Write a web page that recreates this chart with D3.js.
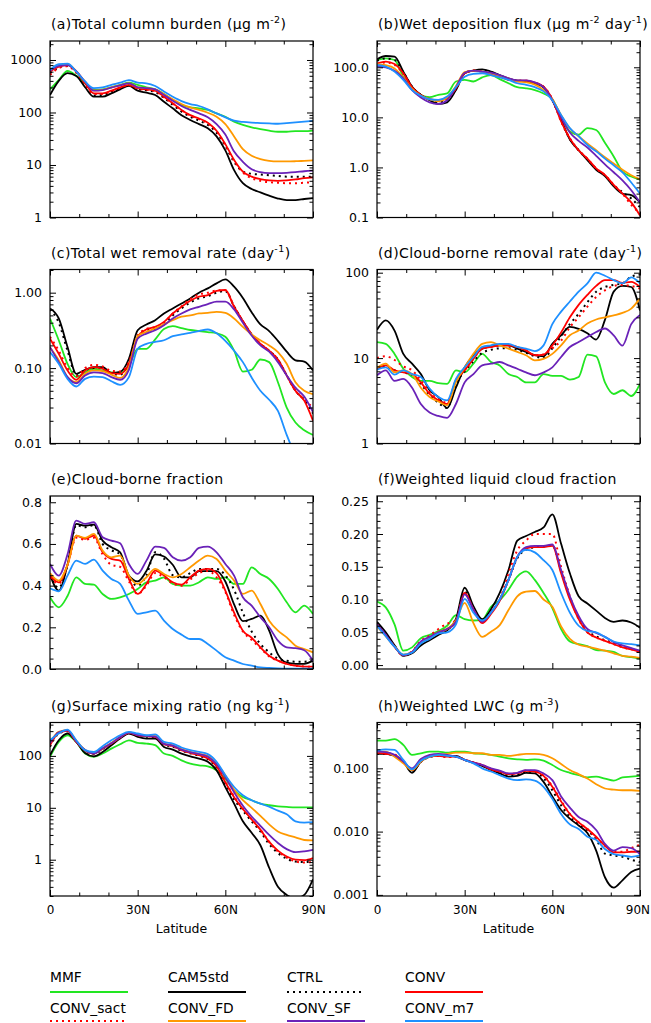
<!DOCTYPE html>
<html><head><meta charset="utf-8">
<script src="https://cdn.jsdelivr.net/npm/d3@7"></script>
<style>
body{margin:0;background:#fff;}
svg{display:block;font-family:"DejaVu Sans",sans-serif;}
</style></head><body>
<svg id="chart" width="651" height="1023"></svg>
<script>
// Zonal means, 0-90N
const lat = [0,3,6,9,12,15,18,21,24,27,30,33,36,39,42,45,48,51,54,57,60,63,66,69,72,75,78,81,84,87,90];

const seriesNames  = ["MMF","CAM5std","CTRL","CONV","CONV_sact","CONV_FD","CONV_SF","CONV_m7"];
const seriesColors = ["#22e622","#000000","#000000","#ff0000","#ff0000","#ff9900","#6a22b8","#1e90ff"];
const seriesDotted = [false,false,true,false,true,false,false,false];

// (a) total column burden, ug m-2
const burden = {
  MMF:      [276,415,617,500,360,268,276,302,335,370,335,302,276,225,173,139,125,120,112,96,83,67,58,52,48,45,43,43,44,44,45],
  CAM5std:  [215,400,560,496,302,200,200,232,276,320,260,238,215,160,120,89,72,60,50,35,19,8,4.5,3.5,3.0,2.6,2.3,2.15,2.15,2.25,2.35],
  CTRL:     [560,720,780,580,340,210,215,250,290,330,280,265,245,190,140,104,83,70,58,41,23,11.5,7.5,6.8,6.6,6.4,6.2,6.0,6.0,6.0,6.0],
  CONV:     [600,746,800,600,360,232,232,260,302,335,290,276,260,200,150,112,89,77,64,45,25,12.5,7.5,6.0,5.4,5.1,5.0,5.1,5.3,5.6,5.8],
  CONV_sact:[520,700,760,570,350,225,225,255,295,330,285,270,255,195,148,110,87,75,62,44,24,12,7.2,5.6,5.0,4.7,4.6,4.5,4.5,4.6,4.7],
  CONV_FD:  [645,780,830,610,385,262,270,300,330,360,302,290,276,222,178,145,125,112,99,83,60,35,20,15,13,12,11.7,11.7,11.8,12,12.2],
  CONV_SF:  [626,770,800,610,386,260,268,297,330,360,302,290,276,215,168,133,112,96,81,60,38,18,11.5,8.3,7.3,7.0,7.0,7.1,7.3,7.6,7.8],
  CONV_m7:  [645,830,850,600,390,290,300,335,370,415,370,360,320,250,200,165,145,133,115,96,81,70,66,64,63,62,61,63,65,67,69]
};

// (b) wet deposition flux, ug m-2 day-1
const wetdep = {
  MMF:      [140,151,140,65,40,28,25.3,28,30,52,56,52,63,70,58,48,40,38,35,30,23,10.4,5.2,4.5,6.1,5.6,3.1,1.66,0.83,0.66,0.57],
  CAM5std:  [144,168,163,82,41,28,22,18.6,20,35,76,86,91,82,70,60,54,53,48,40,22,9,3.6,2.2,1.4,0.9,0.67,0.42,0.3,0.28,0.2],
  CTRL:     [135,150,140,80,41,28,22.5,20,22,36,76,86,88,80,68,58,54,53,49,40,22.5,8.6,3.7,2.2,1.45,0.93,0.69,0.44,0.32,0.24,0.16],
  CONV:     [120,130,116,76,40,28,23,22,24,38,76,86,82,74,65,56,54,54,49.5,41,23,8.3,3.8,2.2,1.5,0.96,0.71,0.45,0.3,0.2,0.11],
  CONV_sact:[115,125,112,74,39,28,23,22,24,38,76,86,82,74,65,56,54,54,49,41,23,8.3,3.8,2.2,1.5,0.95,0.7,0.45,0.3,0.18,0.12],
  CONV_FD:  [115,110,95,62,37,27,23,21,25,42,80,86,82,76,68,60,52,50,45,35,23,11,6,4.2,3,2.2,1.6,1.2,0.9,0.7,0.58],
  CONV_SF:  [105,100,85,60,35,25,20,18.5,22,40,78,86,82,78,70,60,55,55,50,40,22,10,5,3.4,2.5,1.7,1.15,0.8,0.55,0.35,0.2],
  CONV_m7:  [111,103,82,56,35,27,23,22.3,26,40,65,74,76,70,63,56,48,44.5,40,33,22,11.2,6.1,4.2,2.8,2.1,1.5,1.1,0.8,0.5,0.3]
};

// (c) total wet removal rate, day-1
const wetrate = {
  MMF:      [0.455,0.234,0.114,0.076,0.088,0.098,0.093,0.088,0.086,0.108,0.18,0.18,0.24,0.33,0.36,0.34,0.32,0.31,0.30,0.29,0.26,0.17,0.09,0.095,0.13,0.12,0.065,0.03,0.019,0.015,0.013],
  CAM5std:  [0.618,0.455,0.19,0.084,0.095,0.103,0.103,0.086,0.089,0.133,0.318,0.378,0.432,0.53,0.618,0.72,0.84,1.0,1.14,1.33,1.5,1.2,0.85,0.55,0.38,0.31,0.23,0.165,0.127,0.122,0.093],
  CTRL:     [0.6,0.4,0.17,0.08,0.094,0.1,0.1,0.085,0.082,0.12,0.26,0.32,0.33,0.38,0.5,0.62,0.74,0.84,0.9,1.0,1.05,0.66,0.42,0.28,0.21,0.17,0.13,0.08,0.05,0.038,0.025],
  CONV:     [0.246,0.155,0.093,0.07,0.093,0.103,0.098,0.086,0.084,0.114,0.259,0.325,0.352,0.41,0.53,0.65,0.78,0.885,0.93,1.06,1.085,0.65,0.42,0.28,0.21,0.17,0.13,0.08,0.05,0.037,0.02],
  CONV_sact:[0.26,0.17,0.1,0.078,0.1,0.11,0.105,0.092,0.09,0.12,0.27,0.33,0.35,0.4,0.53,0.66,0.82,0.95,1.0,1.07,1.08,0.66,0.42,0.28,0.21,0.17,0.13,0.08,0.05,0.038,0.03],
  CONV_FD:  [0.187,0.127,0.076,0.065,0.084,0.093,0.091,0.082,0.074,0.103,0.265,0.302,0.335,0.38,0.432,0.48,0.5,0.53,0.54,0.558,0.54,0.455,0.352,0.28,0.234,0.2,0.163,0.114,0.065,0.05,0.045],
  CONV_SF:  [0.19,0.12,0.076,0.063,0.08,0.088,0.086,0.076,0.07,0.095,0.246,0.287,0.318,0.37,0.455,0.53,0.6,0.65,0.706,0.76,0.76,0.6,0.4,0.27,0.2,0.165,0.12,0.08,0.055,0.042,0.026],
  CONV_m7:  [0.163,0.114,0.072,0.057,0.072,0.077,0.076,0.067,0.06,0.076,0.18,0.21,0.222,0.234,0.265,0.28,0.293,0.31,0.325,0.29,0.23,0.17,0.12,0.075,0.05,0.038,0.027,0.013,0.007,0.005,0.004]
};

// (d) cloud-borne removal rate, day-1
const cbrate = {
  MMF:      [15.4,14.7,11.2,7.5,6,5.4,5.4,5.1,5,7.2,6.8,8.6,11.2,9,8.2,6.5,6,5.2,5.2,6.5,6.2,6.2,5.6,6,11,10.5,5.2,3.8,4.2,3.6,5],
  CAM5std:  [21.5,27.7,21,11.2,8.6,6.5,4.2,3.5,2.6,4.5,7.8,10.7,12.9,13.7,14.1,14.1,12.9,11.8,10.8,10.5,14.7,18.5,23.2,22,19.5,16.5,28,60,70,68,36],
  CTRL:     [7.5,8,7.2,6.8,6.4,5,3.7,3,2.6,5,7,9.2,11.5,12.5,13,13,12.5,11.5,10.5,10,13,18,25,33,45,60,68,72,75,90,95],
  CONV:     [7.5,8.2,7.2,6.8,6.5,5.2,3.8,3.2,2.9,5.5,7.2,9.8,12.9,13.5,14.1,14.1,13.5,12.3,10.8,11,14.1,20,30,42,55,70,82,82,76,78,68],
  CONV_sact:[10,10.5,9.5,8,7.2,5.5,4,3.3,3,5.5,7.2,9.8,12.9,13.5,14,14,13.5,12.3,10.8,11,13,16,23,30,40,52,62,70,72,70,65],
  CONV_FD:  [7.7,8.6,6.8,7.2,6.5,4.5,3.5,3.1,2.8,5.2,7.8,11.2,14.7,15.4,14.1,12.9,11.8,10.8,9.4,9.8,11.2,14.1,18.5,21,25.4,28.3,30,31.7,33.8,38,50],
  CONV_SF:  [6.3,7.2,5.4,5.7,4.5,2.9,2.3,2.1,2,2.9,5.2,6.5,8.2,8.6,9,8.2,7.5,6.8,6.3,6.8,7.8,10.3,13.5,15.4,17.7,20.2,22.2,18.5,14,25,32],
  CONV_m7:  [7.3,7.8,6.4,7.2,6.5,6,4.4,3.5,3.2,5.7,7.8,10.3,13.5,14.1,14.7,14.7,13.5,12.9,12.1,14.1,25,35,46,60,75,100,92,82,75,88,75]
};

// (e) cloud-borne fraction
const cbfrac = {
  MMF:      [0.344,0.296,0.35,0.44,0.408,0.405,0.36,0.336,0.344,0.36,0.384,0.416,0.424,0.44,0.408,0.4,0.4,0.416,0.44,0.432,0.44,0.408,0.408,0.488,0.456,0.432,0.384,0.32,0.272,0.304,0.264],
  CAM5std:  [0.453,0.376,0.5,0.696,0.688,0.693,0.616,0.584,0.56,0.448,0.42,0.47,0.55,0.54,0.5,0.44,0.44,0.47,0.47,0.47,0.42,0.31,0.23,0.24,0.256,0.184,0.07,0.03,0.025,0.025,0.04],
  CTRL:     [0.45,0.39,0.5,0.69,0.68,0.69,0.6,0.57,0.55,0.44,0.4,0.45,0.56,0.53,0.45,0.44,0.46,0.48,0.48,0.48,0.45,0.38,0.27,0.18,0.12,0.08,0.05,0.04,0.035,0.035,0.04],
  CONV:     [0.448,0.416,0.5,0.64,0.624,0.64,0.56,0.528,0.52,0.432,0.36,0.408,0.472,0.448,0.416,0.405,0.44,0.472,0.48,0.46,0.376,0.27,0.184,0.15,0.104,0.064,0.04,0.024,0.016,0.011,0.011],
  CONV_sact:[0.44,0.41,0.5,0.63,0.62,0.63,0.55,0.5,0.49,0.42,0.36,0.4,0.46,0.44,0.41,0.4,0.43,0.46,0.47,0.44,0.37,0.26,0.18,0.14,0.1,0.06,0.04,0.025,0.016,0.012,0.011],
  CONV_FD:  [0.46,0.424,0.5,0.64,0.629,0.648,0.568,0.536,0.544,0.448,0.408,0.44,0.48,0.456,0.44,0.456,0.488,0.52,0.544,0.528,0.472,0.424,0.36,0.376,0.312,0.232,0.184,0.152,0.112,0.096,0.08],
  CONV_SF:  [0.504,0.448,0.55,0.712,0.696,0.704,0.632,0.616,0.603,0.504,0.456,0.52,0.587,0.581,0.536,0.52,0.536,0.581,0.587,0.56,0.504,0.448,0.344,0.304,0.248,0.2,0.136,0.104,0.1,0.09,0.04],
  CONV_m7:  [0.387,0.373,0.448,0.52,0.504,0.525,0.472,0.432,0.408,0.328,0.264,0.272,0.28,0.232,0.192,0.165,0.144,0.144,0.12,0.088,0.056,0.04,0.024,0.016,0.008,0.005,0.003,0.002,0.002,0.002,0.002]
};

// (f) weighted liquid cloud fraction
const lcf = {
  MMF:      [0.097,0.088,0.062,0.022,0.027,0.041,0.046,0.052,0.06,0.076,0.07,0.068,0.069,0.089,0.099,0.115,0.135,0.143,0.13,0.11,0.087,0.055,0.036,0.032,0.029,0.023,0.022,0.02,0.014,0.012,0.01],
  CAM5std:  [0.066,0.05,0.03,0.014,0.018,0.03,0.038,0.046,0.053,0.07,0.118,0.09,0.07,0.085,0.11,0.145,0.19,0.197,0.203,0.21,0.23,0.185,0.14,0.105,0.094,0.083,0.072,0.066,0.068,0.065,0.057],
  CTRL:     [0.064,0.046,0.029,0.015,0.02,0.035,0.042,0.05,0.055,0.066,0.112,0.086,0.066,0.08,0.1,0.13,0.163,0.176,0.18,0.181,0.183,0.143,0.103,0.072,0.052,0.044,0.038,0.033,0.028,0.025,0.021],
  CONV:     [0.062,0.045,0.028,0.015,0.02,0.035,0.042,0.05,0.055,0.065,0.11,0.085,0.064,0.078,0.098,0.13,0.165,0.178,0.18,0.18,0.182,0.14,0.1,0.07,0.05,0.042,0.037,0.032,0.027,0.024,0.02],
  CONV_sact:[0.062,0.045,0.028,0.015,0.021,0.037,0.045,0.055,0.063,0.068,0.11,0.085,0.066,0.08,0.1,0.14,0.175,0.19,0.2,0.2,0.2,0.15,0.105,0.07,0.05,0.042,0.037,0.032,0.027,0.024,0.02],
  CONV_FD:  [0.059,0.044,0.028,0.016,0.02,0.035,0.042,0.05,0.055,0.068,0.095,0.064,0.043,0.051,0.061,0.084,0.105,0.112,0.113,0.1,0.089,0.059,0.04,0.031,0.028,0.025,0.022,0.018,0.014,0.013,0.011],
  CONV_SF:  [0.062,0.046,0.028,0.015,0.02,0.036,0.043,0.05,0.055,0.066,0.108,0.085,0.066,0.08,0.1,0.13,0.165,0.18,0.182,0.182,0.184,0.145,0.105,0.075,0.055,0.049,0.043,0.035,0.03,0.026,0.022],
  CONV_m7:  [0.06,0.044,0.028,0.016,0.019,0.033,0.04,0.048,0.05,0.062,0.101,0.08,0.068,0.08,0.1,0.13,0.165,0.176,0.172,0.16,0.145,0.11,0.08,0.06,0.052,0.05,0.043,0.036,0.033,0.032,0.03]
};

// (g) surface mixing ratio, ng kg-1
const sfc = {
  MMF:      [96,186,250,186,111,96,111,138,168,200,178,173,161,111,100,82,71,66,63,53,36.6,21.7,16.2,14,12,11.2,10.7,10.4,10.2,10.2,10.2],
  CAM5std:  [103,200,270,186,114,98,119,161,216,270,233,216,216,149,132,111,98,89,77,53,25,12,5.5,3.3,1.9,0.7,0.3,0.21,0.18,0.21,0.42],
  CTRL:     [150,270,300,186,125,108,135,170,222,275,245,235,228,165,150,126,112,100,86,60,29,14.5,8.8,5.5,3.5,2.0,1.35,1.05,0.92,0.9,0.95],
  CONV:     [160,278,303,186,129,111,138,173,226,278,250,240,233,168,154,129,114,103,89,63,31,16,9.5,6,3.8,2.2,1.5,1.15,1.0,0.98,1.08],
  CONV_sact:[170,285,305,190,130,112,140,175,228,280,252,242,235,170,155,130,115,104,90,64,32,16.5,9.6,6,3.8,2.2,1.45,1.1,0.93,0.88,0.92],
  CONV_FD:  [180,290,315,195,130,112,140,178,232,285,255,245,240,172,160,135,120,110,99,71,42.4,22,14,10,7,4.8,3.5,3.0,2.7,2.4,2.35],
  CONV_SF:  [175,285,310,190,130,111,140,175,230,280,252,242,236,170,158,132,118,108,96,69,39,20,11,6.8,4.5,3.0,2.1,1.6,1.4,1.45,1.55],
  CONV_m7:  [200,270,320,200,129,119,154,200,250,290,270,250,260,186,173,145,129,119,108,77,42.4,25.2,17.4,14,12,10.5,8.8,7.5,5.5,5.2,5.3]
};

// (h) weighted LWC, g m-3
const lwc = {
  MMF:      [0.275,0.275,0.29,0.235,0.163,0.173,0.184,0.184,0.177,0.184,0.184,0.173,0.169,0.163,0.153,0.144,0.139,0.136,0.139,0.132,0.113,0.094,0.085,0.078,0.072,0.074,0.069,0.064,0.072,0.074,0.076],
  CAM5std:  [0.169,0.169,0.157,0.128,0.085,0.128,0.153,0.163,0.157,0.157,0.136,0.123,0.109,0.094,0.083,0.074,0.076,0.085,0.083,0.061,0.036,0.022,0.016,0.0125,0.0095,0.005,0.0019,0.0013,0.0017,0.0023,0.0026],
  CTRL:     [0.17,0.168,0.16,0.127,0.09,0.127,0.152,0.158,0.154,0.154,0.135,0.122,0.11,0.095,0.086,0.078,0.08,0.088,0.087,0.07,0.045,0.026,0.017,0.013,0.0105,0.0075,0.0045,0.0042,0.004,0.0036,0.0033],
  CONV:     [0.177,0.17,0.163,0.128,0.094,0.128,0.153,0.157,0.153,0.153,0.136,0.123,0.113,0.096,0.089,0.081,0.083,0.091,0.089,0.076,0.051,0.03,0.019,0.014,0.011,0.0083,0.006,0.0047,0.0047,0.0048,0.0048],
  CONV_sact:[0.178,0.172,0.165,0.13,0.094,0.13,0.154,0.157,0.15,0.152,0.137,0.124,0.114,0.098,0.09,0.082,0.084,0.092,0.09,0.077,0.052,0.031,0.019,0.014,0.011,0.008,0.006,0.0048,0.0048,0.0055,0.0062],
  CONV_FD:  [0.184,0.184,0.153,0.12,0.094,0.128,0.153,0.163,0.169,0.177,0.177,0.173,0.173,0.163,0.163,0.157,0.163,0.169,0.169,0.163,0.144,0.117,0.094,0.081,0.069,0.056,0.048,0.046,0.045,0.045,0.044],
  CONV_SF:  [0.184,0.18,0.163,0.128,0.1,0.14,0.163,0.169,0.163,0.153,0.136,0.123,0.113,0.1,0.092,0.083,0.085,0.094,0.094,0.083,0.065,0.036,0.024,0.017,0.0143,0.0106,0.0064,0.005,0.0057,0.0055,0.0044],
  CONV_m7:  [0.19,0.2,0.195,0.136,0.096,0.132,0.153,0.163,0.157,0.153,0.136,0.12,0.1,0.089,0.078,0.069,0.065,0.067,0.064,0.051,0.033,0.019,0.013,0.011,0.0083,0.0074,0.0053,0.0044,0.0042,0.004,0.0042]
};

const xTickValues = [0,30,60,90];
const xTickLabels = ["0","30N","60N","90N"];
const xMinorValues = [10,20,40,50,70,80];

// Panel titles: [text, superscript?] runs
const panels = [
  {key:"a", data:burden, log:true, domain:[1,2300],
   title:[["(a)Total column burden (μg m",0],["-2",1],[")",0]],
   ticks:[1,10,100,1000], labels:["1","10","100","1000"]},
  {key:"b", data:wetdep, log:true, domain:[0.1,335],
   title:[["(b)Wet deposition flux (μg m",0],["-2",1],[" day",0],["-1",1],[")",0]],
   ticks:[0.1,1,10,100], labels:["0.1","1.0","10.0","100.0"]},
  {key:"c", data:wetrate, log:true, domain:[0.01,2.03],
   title:[["(c)Total wet removal rate (day",0],["-1",1],[")",0]],
   ticks:[0.01,0.1,1], labels:["0.01","0.10","1.00"]},
  {key:"d", data:cbrate, log:true, domain:[1,109],
   title:[["(d)Cloud-borne removal rate (day",0],["-1",1],[")",0]],
   ticks:[1,10,100], labels:["1","10","100"]},
  {key:"e", data:cbfrac, log:false, domain:[0,0.83],
   title:[["(e)Cloud-borne fraction",0]],
   ticks:[0,0.2,0.4,0.6,0.8], labels:["0.0","0.2","0.4","0.6","0.8"], minorStep:0.05},
  {key:"f", data:lcf, log:false, domain:[-0.006,0.258],
   title:[["(f)Weighted liquid cloud fraction",0]],
   ticks:[0,0.05,0.1,0.15,0.2,0.25], labels:["0.00","0.05","0.10","0.15","0.20","0.25"], minorStep:0.01},
  {key:"g", data:sfc, log:true, domain:[0.2,440],
   title:[["(g)Surface mixing ratio (ng kg",0],["-1",1],[")",0]],
   ticks:[1,10,100], labels:["1","10","100"]},
  {key:"h", data:lwc, log:true, domain:[0.00096,0.53],
   title:[["(h)Weighted LWC (g m",0],["-3",1],[")",0]],
   ticks:[0.001,0.01,0.1], labels:["0.001","0.010","0.100"]}
];

const W = 651;
const cols = [[50,313],[377,640]];
const rows = [[41,217.5],[269.5,443.5],[496,669],[722.5,896]];
const majorLen = 6, minorLen = 3.5;

const svg = d3.select("#chart");
const defs = svg.append("defs");

function minorTicks(p) {
  const [lo, hi] = p.domain;
  const out = [];
  if (p.log) {
    for (let e = Math.floor(Math.log10(lo)); e <= Math.ceil(Math.log10(hi)); e++) {
      for (let k = 2; k <= 9; k++) {
        const v = k * Math.pow(10, e);
        if (v >= lo && v <= hi) out.push(v);
      }
    }
  } else {
    const n = Math.round((hi - lo) / p.minorStep) + 2;
    for (let i = -1; i < n; i++) {
      const v = Math.round((Math.ceil(lo / p.minorStep) + i) * p.minorStep * 1e6) / 1e6;
      if (v >= lo && v <= hi && !p.ticks.some(t => Math.abs(t - v) < 1e-9)) out.push(v);
    }
  }
  return out;
}

function styleAxis(sel) {
  sel.select(".domain").remove();
  sel.selectAll(".tick line").attr("stroke", "#000").attr("stroke-width", 1);
  sel.selectAll(".tick text").attr("fill", "#000").attr("font-size", 12.5)
     .attr("font-family", '"DejaVu Sans",sans-serif');
}

panels.forEach((p, idx) => {
  const [x0, x1] = cols[idx % 2];
  const [y0, y1] = rows[Math.floor(idx / 2)];
  const lastRow = Math.floor(idx / 2) === rows.length - 1;

  const x = d3.scaleLinear().domain([0, 90]).range([x0, x1]);
  const y = (p.log ? d3.scaleLog() : d3.scaleLinear()).domain(p.domain).range([y1, y0]);

  const g = svg.append("g");
  const clipId = "clip-" + p.key;
  defs.append("clipPath").attr("id", clipId)
    .append("rect").attr("x", x0).attr("y", y0).attr("width", x1 - x0).attr("height", y1 - y0);

  const line = d3.line()
    .x((d, i) => x(lat[i]))
    .y(d => y(d))
    .curve(d3.curveMonotoneX);

  const curves = g.append("g").attr("clip-path", `url(#${clipId})`);
  seriesNames.forEach((name, i) => {
    curves.append("path")
      .attr("d", line(p.data[name]))
      .attr("fill", "none")
      .attr("stroke", seriesColors[i])
      .attr("stroke-width", seriesDotted[i] ? 2 : 1.8)
      .attr("stroke-linejoin", "round")
      .attr("stroke-dasharray", seriesDotted[i] ? "2,4" : null);
  });

  // y axes: labelled left, mirrored right, ticks pointing inward
  const minors = minorTicks(p);
  g.append("g").attr("transform", `translate(${x0},0)`)
    .call(d3.axisLeft(y).tickValues(p.ticks).tickSize(-majorLen).tickPadding(8)
      .tickFormat((d, i) => p.labels[i])).call(styleAxis);
  g.append("g").attr("transform", `translate(${x0},0)`)
    .call(d3.axisLeft(y).tickValues(minors).tickSize(-minorLen).tickFormat("")).call(styleAxis);
  g.append("g").attr("transform", `translate(${x1},0)`)
    .call(d3.axisRight(y).tickValues(p.ticks).tickSize(-majorLen).tickFormat("")).call(styleAxis);
  g.append("g").attr("transform", `translate(${x1},0)`)
    .call(d3.axisRight(y).tickValues(minors).tickSize(-minorLen).tickFormat("")).call(styleAxis);

  // x axes: top and bottom, labels only on the last row
  g.append("g").attr("transform", `translate(0,${y0})`)
    .call(d3.axisTop(x).tickValues(xTickValues).tickSize(-majorLen).tickFormat("")).call(styleAxis);
  g.append("g").attr("transform", `translate(0,${y0})`)
    .call(d3.axisTop(x).tickValues(xMinorValues).tickSize(-minorLen).tickFormat("")).call(styleAxis);
  const bottom = g.append("g").attr("transform", `translate(0,${y1})`)
    .call(d3.axisBottom(x).tickValues(xTickValues).tickSize(-majorLen).tickPadding(9)
      .tickFormat((d, i) => lastRow ? xTickLabels[i] : "")).call(styleAxis);
  bottom.selectAll(".tick text").attr("font-size", 12);
  // keep the rightmost label inside the page
  bottom.selectAll(".tick text").each(function() {
    const b = this.getBBox();
    const tx = +d3.select(this.parentNode).attr("transform").match(/translate\(([-\d.]+)/)[1];
    const over = tx + b.x + b.width - (W - 1);
    if (over > 0) d3.select(this).attr("dx", -over);
  });
  g.append("g").attr("transform", `translate(0,${y1})`)
    .call(d3.axisBottom(x).tickValues(xMinorValues).tickSize(-minorLen).tickFormat("")).call(styleAxis);

  g.append("rect").attr("x", x0).attr("y", y0).attr("width", x1 - x0).attr("height", y1 - y0)
    .attr("fill", "none").attr("stroke", "#000").attr("stroke-width", 1.2);

  // title with superscript runs
  const t = g.append("text").attr("x", x0 + 1).attr("y", y0 - 12)
    .attr("font-size", 14).attr("fill", "#000").attr("letter-spacing", 0.4);
  let raised = false;
  p.title.forEach(([s, sup]) => {
    const ts = t.append("tspan").text(s);
    if (sup) { ts.attr("font-size", 9.5).attr("dy", raised ? 0 : -6); raised = true; }
    else if (raised) { ts.attr("dy", 6); raised = false; }
  });

  if (lastRow) {
    g.append("text").attr("x", (x0 + x1) / 2).attr("y", y1 + 37)
      .attr("text-anchor", "middle").attr("font-size", 12.5).text("Latitude");
  }
});

// legend
const legendX = [50, 168, 287, 405];
const legendRows = [[982, 992], [1013, 1021]];
seriesNames.forEach((name, i) => {
  const cx = legendX[i % 4];
  const [ty, ly] = legendRows[Math.floor(i / 4)];
  svg.append("text").attr("x", cx).attr("y", ty).attr("font-size", 13.8).text(name);
  svg.append("line").attr("x1", cx).attr("x2", cx + 78).attr("y1", ly).attr("y2", ly)
    .attr("stroke", seriesColors[i]).attr("stroke-width", 2)
    .attr("stroke-dasharray", seriesDotted[i] ? "2,4" : null);
});
</script>
</body></html>
